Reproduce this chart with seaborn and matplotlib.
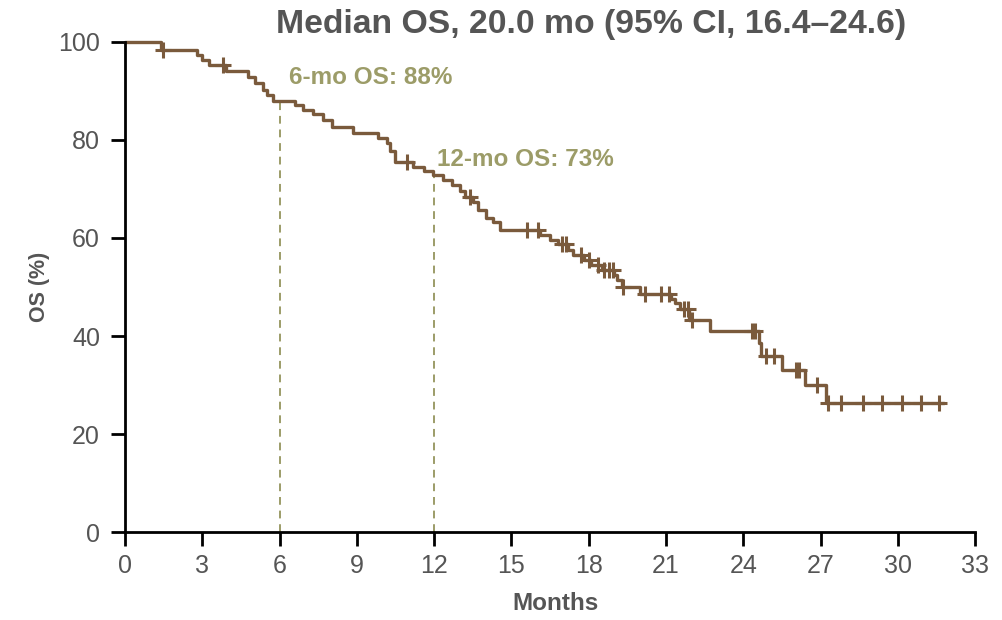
import numpy as np
import pandas as pd
import matplotlib
matplotlib.use("Agg")
import matplotlib.pyplot as plt
import seaborn as sns

# ---- data ----
event_months = [0.0, 1.40, 2.80, 3.00, 3.25, 3.90, 4.78, 5.04, 5.36, 5.50, 5.75,
                6.60, 6.92, 7.31, 7.70, 8.02, 8.86, 9.83, 10.16, 10.29, 10.48,
                11.19, 11.60, 11.97, 12.36, 12.68, 13.00, 13.20, 13.50, 13.70,
                14.00, 14.30, 14.55, 16.10, 16.50, 16.80, 17.20, 17.40, 17.80,
                18.10, 18.50, 19.00, 19.10, 19.28, 20.00, 21.20, 21.35, 21.55,
                21.90, 22.70, 24.60, 24.70, 25.50, 26.40, 27.20]
survival_pct = [100.0, 98.4, 97.3, 96.3, 95.3, 94.1, 92.9, 91.6, 90.2, 89.2, 88.0,
                87.1, 86.1, 85.3, 84.1, 82.7, 81.4, 80.4, 79.4, 77.8, 75.6,
                74.5, 73.7, 72.9, 71.8, 70.8, 69.6, 68.4, 67.4, 65.7,
                64.0, 63.2, 61.6, 60.6, 59.6, 58.7, 57.6, 56.6, 55.5,
                54.5, 53.4, 52.4, 51.4, 50.0, 48.6, 47.6, 46.7, 45.5,
                43.2, 41.0, 38.6, 35.9, 33.1, 29.9, 26.3]
last_followup = 31.8
censor_months = [1.48, 3.80, 10.95, 13.40, 15.60, 16.05, 16.95, 17.10, 17.70,
                 18.00, 18.35, 18.60, 18.80, 18.95, 19.35, 20.20, 20.80, 21.10,
                 21.70, 21.85, 22.00, 24.33, 24.45, 24.90, 25.20, 26.05, 26.15,
                 26.85, 27.30, 27.80, 28.65, 29.40, 30.15, 30.90, 31.60]
landmark_months = [6, 12]
landmark_pct = [88, 73]
landmark_labels = ["6-mo OS: 88%", "12-mo OS: 73%"]
title_text = "Median OS, 20.0 mo (95% CI, 16.4\u201324.6)"
x_ticks = list(range(0, 34, 3))
y_ticks = list(range(0, 101, 20))

# ---- styling ----
sns.set_theme(style="ticks")
plt.rcParams["font.family"] = ["Liberation Sans", "DejaVu Sans"]

LINE = "#7a5a3c"
OLIVE = "#9c9c68"
GRAY = "#555555"

fig = plt.figure(figsize=(10.02, 6.2), dpi=100)
ax = fig.add_axes([0.1248, 0.1419, 0.8483, 0.7904])

steps = pd.DataFrame({"t": event_months + [last_followup],
                      "s": survival_pct + [survival_pct[-1]]})
sns.lineplot(data=steps, x="t", y="s", drawstyle="steps-post", color=LINE,
             linewidth=2.4, ax=ax, clip_on=False, estimator=None, sort=False)

ev = np.array(event_months)
sv = np.array(survival_pct)
idx = np.searchsorted(ev, np.array(censor_months), side="right") - 1
cens = pd.DataFrame({"t": censor_months, "s": sv[idx]})
sns.scatterplot(data=cens, x="t", y="s", marker="+", s=140, linewidth=2.2,
                color=LINE, ax=ax, clip_on=False, zorder=4)

for m, p in zip(landmark_months, landmark_pct):
    ax.plot([m, m], [0, p], linestyle=(0, (4, 3)), color=OLIVE, linewidth=1.4, zorder=1)

ax.text(6.35, 92.7, landmark_labels[0], color=OLIVE, fontsize=17.5, fontweight="bold",
        va="center", ha="left")
ax.text(12.1, 76.0, landmark_labels[1], color=OLIVE, fontsize=17.5, fontweight="bold",
        va="center", ha="left")

fig.text(0.590, 0.960, title_text, color=GRAY, fontsize=24.3, fontweight="bold",
         ha="center", va="center")

ax.set_xlim(0, 33)
ax.set_ylim(0, 100)
ax.set_xticks(x_ticks)
ax.set_yticks(y_ticks)
ax.tick_params(axis="both", colors="black", labelcolor=GRAY, labelsize=18,
               length=10, width=2, direction="out")
ax.tick_params(axis="x", pad=6)
ax.tick_params(axis="y", pad=8)
ax.set_xlabel("Months", color=GRAY, fontsize=17.5, fontweight="bold")
ax.set_ylabel("OS (%)", color=GRAY, fontsize=15.5, fontweight="bold")
ax.xaxis.set_label_coords(0.506, -0.122)
ax.yaxis.set_label_coords(-0.088, 0.5)
for sp in ["top", "right"]:
    ax.spines[sp].set_visible(False)
for sp in ["left", "bottom"]:
    ax.spines[sp].set_linewidth(2)
    ax.spines[sp].set_color("black")

fig.savefig("out.png", dpi=100)
